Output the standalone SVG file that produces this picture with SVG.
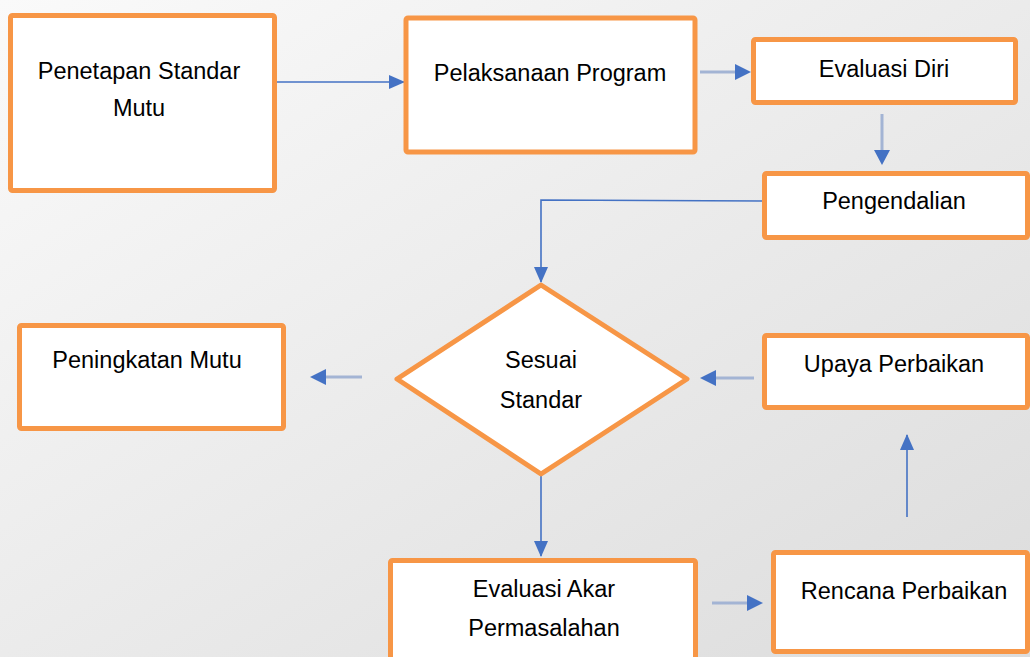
<svg xmlns="http://www.w3.org/2000/svg" width="1030" height="657" viewBox="0 0 1030 657">
<defs>
<linearGradient id="bg" x1="0" y1="0" x2="1" y2="1">
<stop offset="0" stop-color="#fafafa"/>
<stop offset="1" stop-color="#dcdcdc"/>
</linearGradient>
<marker id="ah" viewBox="0 0 16 14" refX="15" refY="7" markerWidth="16" markerHeight="14" markerUnits="userSpaceOnUse" orient="auto">
<path d="M0,0 L16,7 L0,14 Z" fill="#4472c4"/>
</marker>
<style>
.box{fill:#ffffff;stroke:#f79646;stroke-width:5;stroke-linejoin:round}
.t{font-family:"Liberation Sans",Arial,sans-serif;font-size:23.5px;fill:#000000;text-anchor:middle}
.ln{fill:none;stroke:#4472c4;stroke-width:1.6}
.lt{fill:none;stroke:#a3b4d4;stroke-width:3}
</style>
</defs>
<rect x="0" y="0" width="1030" height="657" fill="url(#bg)"/>
<g id="connectors">
<path class="ln" d="M277,82 L404,82" marker-end="url(#ah)"/>
<path class="lt" d="M700,72 L735,72"/>
<path d="M735,64 L751,72 L735,80 Z" fill="#4472c4"/>
<path class="lt" d="M882,114 L882,150"/>
<path d="M874,150 L882,165 L890,150 Z" fill="#4472c4"/>
<path class="ln" d="M763,201 L541,200 L541,282" marker-end="url(#ah)"/>
<path class="lt" d="M362,377 L326,377"/>
<path d="M326,369 L310,377 L326,385 Z" fill="#4472c4"/>
<path class="lt" d="M754,378 L716,378"/>
<path d="M716,370 L700,378 L716,386 Z" fill="#4472c4"/>
<path class="ln" d="M541,476 L541,556" marker-end="url(#ah)"/>
<path class="lt" d="M712,603 L747,603"/>
<path d="M747,595 L763,603 L747,611 Z" fill="#4472c4"/>
<path class="ln" d="M907,517 L907,435" marker-end="url(#ah)"/>
</g>
<g id="penetapan">
<rect class="box" x="10.5" y="15.5" width="264" height="175" rx="2"/>
<text class="t" x="139" y="79">Penetapan Standar</text>
<text class="t" x="139" y="116">Mutu</text>
</g>
<g id="pelaksanaan">
<rect class="box" x="406" y="18" width="289" height="134" rx="2"/>
<text class="t" x="550" y="81">Pelaksanaan Program</text>
</g>
<g id="evaluasi-diri">
<rect class="box" x="753.5" y="39.5" width="262" height="63" rx="2"/>
<text class="t" x="884" y="77">Evaluasi Diri</text>
</g>
<g id="pengendalian">
<rect class="box" x="764.5" y="173.5" width="263" height="64" rx="2"/>
<text class="t" x="894" y="209">Pengendalian</text>
</g>
<g id="sesuai-standar">
<path class="box" d="M541,285 L687,379 L541,474 L397,379 Z"/>
<text class="t" x="541" y="368">Sesuai</text>
<text class="t" x="541" y="408">Standar</text>
</g>
<g id="peningkatan">
<rect class="box" x="19.5" y="325.5" width="264" height="103" rx="2"/>
<text class="t" x="147" y="368">Peningkatan Mutu</text>
</g>
<g id="upaya">
<rect class="box" x="764.5" y="335.5" width="263" height="72" rx="2"/>
<text class="t" x="894" y="372">Upaya Perbaikan</text>
</g>
<g id="evaluasi-akar">
<rect class="box" x="390.5" y="560.5" width="305" height="120" rx="2"/>
<text class="t" x="544" y="597">Evaluasi Akar</text>
<text class="t" x="544" y="636">Permasalahan</text>
</g>
<g id="rencana">
<rect class="box" x="773.5" y="552.5" width="254" height="99" rx="2"/>
<text class="t" x="904" y="599">Rencana Perbaikan</text>
</g>
</svg>
